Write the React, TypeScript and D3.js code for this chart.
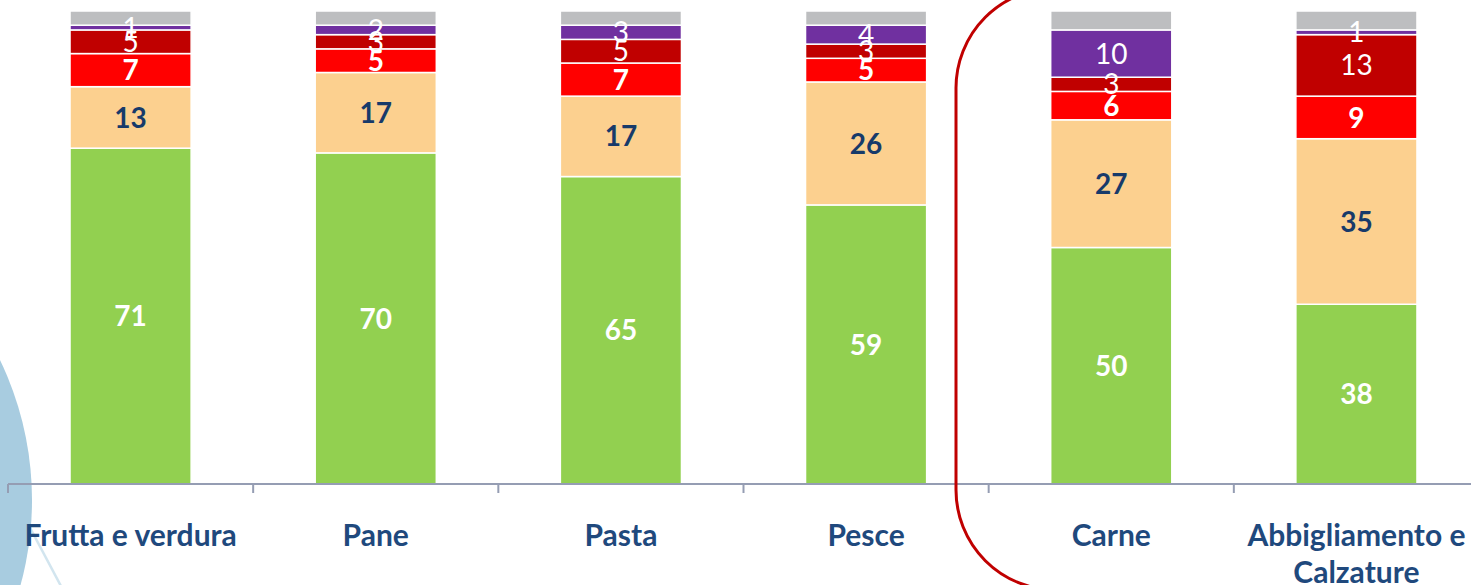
import React from 'react'
import { scaleBand, scaleLinear } from 'd3'

const categories = ['Frutta e verdura', 'Pane', 'Pasta', 'Pesce', 'Carne', 'Abbigliamento e|Calzature']

// stacked from bottom to top
const seriesNames = ['verde', 'arancio', 'rosso', 'rossoScuro', 'viola', 'grigio']
const verde = [71, 70, 65, 59, 50, 38]
const arancio = [13, 17, 17, 26, 27, 35]
const rosso = [7, 5, 7, 5, 6, 9]
const rossoScuro = [5, 3, 5, 3, 3, 13]
const viola = [1, 2, 3, 4, 10, 1]
const grigio = [3, 3, 3, 3, 4, 4]

const seriesValues = [verde, arancio, rosso, rossoScuro, viola, grigio]
const seriesColors = ['#92d050', '#fcd08f', '#ff0000', '#c00000', '#7030a0', '#bdbec0']
const labelColors = ['#ffffff', '#173a6a', '#ffffff', '#ffffff', '#ffffff', null]
const labelWeights = [700, 700, 700, 400, 400, 400]

const W = 1471
const H = 585

function Bars(props) {
  const { xScale, yScale } = props
  const barW = xScale.bandwidth() * 0.494

  return <g>
    {categories.map((cat, i) => {
      let acc = 0
      const cx = xScale(cat) + xScale.bandwidth() / 2
      return <g key={cat}>
        {seriesValues.map((vals, s) => {
          const y0 = yScale(acc)
          acc += vals[i]
          const y1 = yScale(acc)
          return <rect key={seriesNames[s]} x={cx - barW / 2} y={y1} width={barW} height={y0 - y1}
            fill={seriesColors[s]} stroke="#ffffff" strokeWidth={1.5}/>
        })}
      </g>
    })}
  </g>
}

function Labels(props) {
  const { xScale, yScale } = props
  return <g fontFamily="Lato, 'Open Sans', sans-serif" fontSize={28} textAnchor="middle">
    {categories.map((cat, i) => {
      let acc = 0
      const cx = xScale(cat) + xScale.bandwidth() / 2
      return seriesValues.map((vals, s) => {
        const mid = yScale(acc + vals[i] / 2)
        acc += vals[i]
        if (!labelColors[s]) return null
        return <text key={cat + s} x={cx} y={mid} dy="0.36em" fill={labelColors[s]}
          fontWeight={labelWeights[s]}>{vals[i]}</text>
      })
    })}
  </g>
}

function XAxis(props) {
  const { xScale, y } = props
  const [r0, r1] = xScale.range()
  const ticks = categories.map(c => xScale(c)).concat([r1])
  return <g>
    <line x1={r0} x2={r1} y1={y} y2={y} stroke="#959db3" strokeWidth={2}/>
    {ticks.map((t, i) => <line key={i} x1={t} x2={t} y1={y} y2={y + 9} stroke="#959db3" strokeWidth={2}/>)}
    <g fontFamily="Lato, 'Open Sans', sans-serif" fontSize={30} fontWeight={700} fill="#1f497d" textAnchor="middle">
      {categories.map(c => {
        const lines = c.split('|')
        const cx = xScale(c) + xScale.bandwidth() / 2
        return <text key={c} x={cx} y={546}>
          {lines.map((l, k) => <tspan key={k} x={cx} dy={k === 0 ? 0 : 37}>{l}</tspan>)}
        </text>
      })}
    </g>
  </g>
}

export default function App() {
  const axisY = 484

  const xScale = scaleBand()
    .domain(categories)
    .range([8, 1479])
    .padding(0)

  const yScale = scaleLinear()
    .domain([0, 100])
    .range([axisY, 11])

  return (
    <div style={{ position: 'absolute', left: 0, top: 0 }}>
      <svg width={W} height={H} style={{ display: 'block' }}>
        <rect width={W} height={H} fill="#ffffff"/>
        {/* decorazione a sinistra */}
        <line x1={10} x2={62} y1={490} y2={588} stroke="#d2e5ef" strokeWidth={2.5}/>
        <circle cx={-290} cy={500} r={322} fill="#a8cce0"/>

        <Bars xScale={xScale} yScale={yScale}/>
        <Labels xScale={xScale} yScale={yScale}/>
        <XAxis xScale={xScale} y={axisY}/>

        {/* evidenziazione rossa */}
        <rect x={956} y={-12} width={1200} height={602} rx={100} ry={100}
          fill="none" stroke="#c00000" strokeWidth={3}/>
      </svg>
    </div>
  )
}
